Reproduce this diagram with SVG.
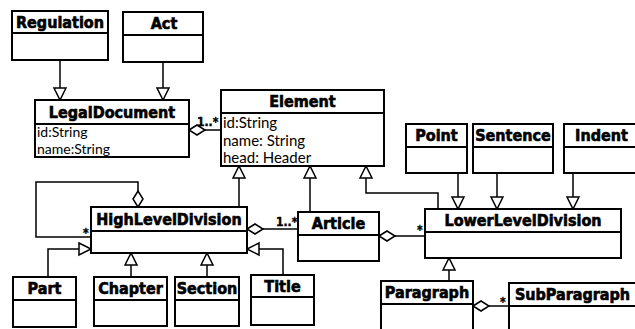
<svg xmlns="http://www.w3.org/2000/svg" width="635" height="329" viewBox="0 0 635 329">
  <style>
    .box { fill: #ffffff; stroke: #000000; stroke-width: 2; }
    .sep { stroke: #000000; stroke-width: 2; fill: none; }
    .name { font-family: "DejaVu Sans Condensed", "DejaVu Sans", sans-serif; font-weight: bold; font-size: 16px; text-anchor: middle; fill: #000000; stroke: #000000; stroke-width: 0.6; }
    .attr { font-family: Lato, "Open Sans", sans-serif; font-size: 15px; fill: #000000; }
    .attr-sm { font-family: Lato, "Open Sans", sans-serif; font-size: 14px; fill: #000000; }
    .mult { font-family: "DejaVu Sans Condensed", "DejaVu Sans", sans-serif; font-weight: bold; font-size: 12px; fill: #000000; stroke: #000000; stroke-width: 0.4; }
    .conn { fill: none; stroke: #000000; stroke-width: 1.5; }
    .gen { marker-end: url(#triangle); }
    .agg { marker-start: url(#diamond); }
  </style>
  <defs>
    <marker id="triangle" markerUnits="userSpaceOnUse" markerWidth="16" markerHeight="14" refX="13" refY="6" orient="auto" overflow="visible">
      <path d="M1,0 L13,6 L1,12 Z" fill="#ffffff" stroke="#000000" stroke-width="1.5"/>
    </marker>
    <marker id="diamond" markerUnits="userSpaceOnUse" markerWidth="18" markerHeight="12" refX="0" refY="5" orient="auto" overflow="visible">
      <path d="M0,5 L8,0 L16,5 L8,10 Z" fill="#ffffff" stroke="#000000" stroke-width="1.5"/>
    </marker>
  </defs>

  <!-- connectors -->
  <g id="connectors">
    <path class="conn gen" d="M60,60 V100"/>
    <path class="conn gen" d="M163,62 V100"/>
    <path class="conn agg" d="M189,130 H221"/>
    <path class="conn gen" d="M239,207 V166"/>
    <path class="conn gen" d="M310,212 V166"/>
    <path class="conn gen" d="M438,209 V193 H366 V166"/>
    <path class="conn agg" d="M138,207 V182 H36 V237 H91"/>
    <path class="conn gen" d="M48,277 V249 H91"/>
    <path class="conn gen" d="M131,277 V253"/>
    <path class="conn gen" d="M207,277 V253"/>
    <path class="conn gen" d="M283,275 V249 H247"/>
    <path class="conn agg" d="M247,229 H298"/>
    <path class="conn agg" d="M379,236 H425"/>
    <path class="conn gen" d="M458,173 V209"/>
    <path class="conn gen" d="M497,173 V209"/>
    <path class="conn gen" d="M573,173 V209"/>
    <path class="conn gen" d="M449,281 V258"/>
    <path class="conn agg" d="M473,306 H509"/>
    <text class="mult" x="197" y="126">1..*</text>
    <text class="mult" x="83" y="237">*</text>
    <text class="mult" x="276" y="226">1..*</text>
    <text class="mult" x="417" y="234">*</text>
    <text class="mult" x="500" y="306">*</text>
  </g>

  <g id="Regulation">
    <rect class="box" x="12" y="11" width="96" height="49"/>
    <path class="sep" d="M12,33 H108"/>
    <text class="name" x="60" y="28">Regulation</text>
  </g>

  <g id="Act">
    <rect class="box" x="123" y="12" width="80" height="50"/>
    <path class="sep" d="M123,35 H203"/>
    <text class="name" x="164" y="29">Act</text>
  </g>

  <g id="LegalDocument">
    <rect class="box" x="35" y="100" width="154" height="57"/>
    <path class="sep" d="M35,124 H189"/>
    <text class="name" x="112" y="118">LegalDocument</text>
    <text class="attr-sm" x="37" y="137">id:String</text>
    <text class="attr-sm" x="37" y="154">name:String</text>
  </g>

  <g id="Element">
    <rect class="box" x="221" y="90" width="163" height="76"/>
    <path class="sep" d="M221,113 H384"/>
    <text class="name" x="302.5" y="107">Element</text>
    <text class="attr" x="223" y="128">id:String</text>
    <text class="attr" x="223" y="146">name: String</text>
    <text class="attr" x="223" y="163">head: Header</text>
  </g>

  <g id="HighLevelDivision">
    <rect class="box" x="91" y="207" width="156" height="46"/>
    <path class="sep" d="M91,231 H247"/>
    <text class="name" x="169" y="225">HighLevelDivision</text>
  </g>

  <g id="Article">
    <rect class="box" x="298" y="212" width="81" height="49"/>
    <path class="sep" d="M298,235 H379"/>
    <text class="name" x="338.5" y="229">Article</text>
  </g>

  <g id="LowerLevelDivision">
    <rect class="box" x="425" y="209" width="196" height="49"/>
    <path class="sep" d="M425,232 H621"/>
    <text class="name" x="523" y="226">LowerLevelDivision</text>
  </g>

  <g id="Point">
    <rect class="box" x="406" y="124" width="61" height="49"/>
    <path class="sep" d="M406,147 H467"/>
    <text class="name" x="436.5" y="141">Point</text>
  </g>

  <g id="Sentence">
    <rect class="box" x="473" y="124" width="80" height="49"/>
    <path class="sep" d="M473,147 H553"/>
    <text class="name" x="513" y="141">Sentence</text>
  </g>

  <g id="Indent">
    <rect class="box" x="564" y="124" width="75" height="49"/>
    <path class="sep" d="M564,147 H639"/>
    <text class="name" x="601.5" y="141">Indent</text>
  </g>

  <g id="Part">
    <rect class="box" x="13" y="277" width="63" height="50"/>
    <path class="sep" d="M13,300 H76"/>
    <text class="name" x="44.5" y="294">Part</text>
  </g>

  <g id="Chapter">
    <rect class="box" x="94" y="277" width="73" height="49"/>
    <path class="sep" d="M94,300 H167"/>
    <text class="name" x="130.5" y="294">Chapter</text>
  </g>

  <g id="Section">
    <rect class="box" x="175" y="277" width="64" height="49"/>
    <path class="sep" d="M175,300 H239"/>
    <text class="name" x="207" y="294">Section</text>
  </g>

  <g id="Title">
    <rect class="box" x="251" y="275" width="63" height="50"/>
    <path class="sep" d="M251,297 H314"/>
    <text class="name" x="282.5" y="292">Title</text>
  </g>

  <g id="Paragraph">
    <rect class="box" x="381" y="281" width="92" height="60"/>
    <path class="sep" d="M381,304 H473"/>
    <text class="name" x="427" y="298">Paragraph</text>
  </g>

  <g id="SubParagraph">
    <rect class="box" x="509" y="283" width="128" height="60"/>
    <path class="sep" d="M509,306 H637"/>
    <text class="name" x="572.5" y="300">SubParagraph</text>
  </g>
</svg>
